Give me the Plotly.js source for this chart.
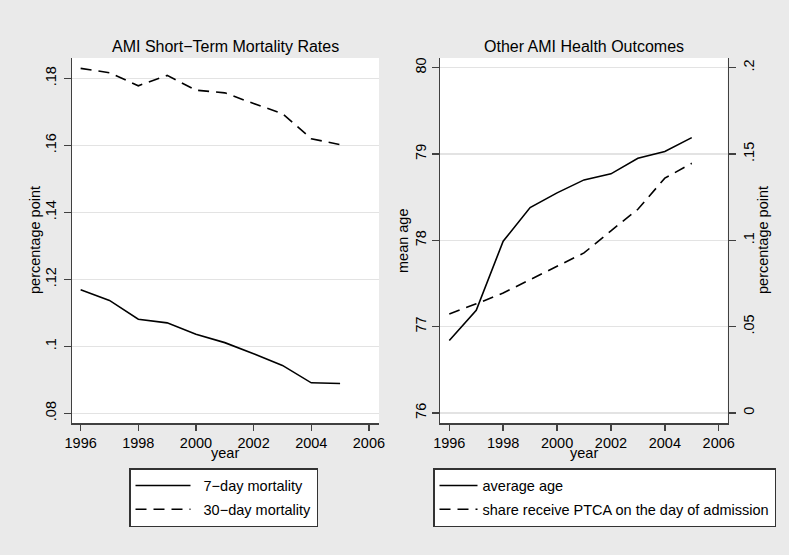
<!DOCTYPE html>
<html>
<head>
<meta charset="utf-8">
<script src="https://cdn.plot.ly/plotly-3.0.1.min.js"></script>
<style>
  html, body { margin: 0; padding: 0; background: #eaeaea; }
  #chart { width: 789px; height: 555px; }
</style>
</head>
<body>
<div id="chart"></div>
<script>
// values
const years = [1996, 1997, 1998, 1999, 2000, 2001, 2002, 2003, 2004, 2005];
const mort7 = [0.1169, 0.1137, 0.1081, 0.1070, 0.1036, 0.1011, 0.0978, 0.0943, 0.0891, 0.0889];
const mort30 = [0.1830, 0.1817, 0.1778, 0.1809, 0.1765, 0.1757, 0.1725, 0.1695, 0.1620, 0.1602];
const avgAge = [76.84, 77.19, 77.99, 78.38, 78.55, 78.70, 78.77, 78.95, 79.03, 79.19];
const ptca = [0.0574, 0.0632, 0.0695, 0.0772, 0.0849, 0.0927, 0.1055, 0.1180, 0.1360, 0.1446];

const xTicks = [1996, 1998, 2000, 2002, 2004, 2006];
const mortTicks = [0.08, 0.10, 0.12, 0.14, 0.16, 0.18];
const mortTickText = ['.08', '.1', '.12', '.14', '.16', '.18'];
const ageTicks = [76, 77, 78, 79, 80];
const shareTicks = [0, 0.05, 0.10, 0.15, 0.20];
const shareTickText = ['0', '.05', '.1', '.15', '.2'];

const FONT = 'Liberation Sans, Arial, sans-serif';
const AXIS = '#404040';
const DASH = '11px,7px';
const PAD = '\u00a0\u00a0';

let lineStyle = (dash) => ({color: 'black', width: 1.6, dash: dash});

var data = [
	{x: years, y: mort7, type: 'scatter', mode: 'lines', name: PAD + '7\u2212day mortality',
		xaxis: 'x', yaxis: 'y', line: lineStyle('solid'), legend: 'legend', legendgroup: 'a'},
	{x: years, y: mort30, type: 'scatter', mode: 'lines', name: PAD + '30\u2212day mortality',
		xaxis: 'x', yaxis: 'y', line: lineStyle(DASH), legend: 'legend', legendgroup: 'b'},
	{x: years, y: avgAge, type: 'scatter', mode: 'lines', name: 'average age',
		xaxis: 'x2', yaxis: 'y2', line: lineStyle('solid'), legend: 'legend2', legendgroup: 'c'},
	{x: years, y: ptca, type: 'scatter', mode: 'lines', name: 'share receive PTCA on the day of admission',
		xaxis: 'x2', yaxis: 'y3', line: lineStyle(DASH), legend: 'legend2', legendgroup: 'd'}
];

function baseAxis(extra) {
	return Object.assign({
		showline: true, linecolor: AXIS, linewidth: 1.5,
		ticks: 'outside', ticklen: 7, tickwidth: 1.5, tickcolor: AXIS,
		tickfont: {family: FONT, size: 14.5, color: 'black'},
		zeroline: false, showgrid: false, fixedrange: true
	}, extra);
}

let xAxisOpts = (domain, range, anchor) => baseAxis({
	domain: domain, range: range, anchor: anchor, ticklen: 6,
	tickmode: 'array', tickvals: xTicks, ticktext: xTicks.map(String)
});

let yAxisOpts = (extra) => baseAxis(Object.assign({
	domain: [1 - 423 / 555, 1 - 58 / 555], tickangle: -90,
	showgrid: true, gridcolor: '#e3e3e3', gridwidth: 1.5
}, extra));

let label = (text, x, y, angle, size) => ({
	text: text, x: x / 789, y: 1 - y / 555, xref: 'paper', yref: 'paper',
	showarrow: false, textangle: angle || 0, xanchor: 'center', yanchor: 'middle',
	font: {family: FONT, size: size || 14.5, color: 'black'}
});

let legendOpts = (x, width) => ({
	x: x / 789, y: 1 - 468 / 555, xanchor: 'left', yanchor: 'top',
	bgcolor: 'white', bordercolor: '#333333', borderwidth: 1.5,
	font: {family: FONT, size: 14.5, color: 'black'},
	itemwidth: width, tracegroupgap: 2
});

var layout = {
	width: 789, height: 555,
	margin: {l: 0, r: 0, t: 0, b: 0},
	paper_bgcolor: '#eaeaea', plot_bgcolor: 'white',
	showlegend: true,
	xaxis: xAxisOpts([72 / 789, 379 / 789], [1995.70, 2006.35], 'y'),
	yaxis: yAxisOpts({anchor: 'x', range: [0.0771, 0.1861], ticklabelstandoff: 2,
		tickmode: 'array', tickvals: mortTicks, ticktext: mortTickText}),
	xaxis2: xAxisOpts([440 / 789, 727.7 / 789], [1995.655, 2006.334], 'y2'),
	yaxis2: yAxisOpts({anchor: 'x2', range: [75.884, 80.112],
		tickmode: 'array', tickvals: ageTicks, ticktext: ageTicks.map(String)}),
	yaxis3: yAxisOpts({anchor: 'x2', overlaying: 'y2', side: 'right', showgrid: false,
		range: [-0.0058, 0.2056], tickmode: 'array', tickvals: shareTicks, ticktext: shareTickText}),
	legend: legendOpts(129, 55),
	legend2: legendOpts(433, 38),
	annotations: [
		label('AMI Short\u2212Term Mortality Rates', 225, 46, 0, 16),
		label('Other AMI Health Outcomes', 584, 46, 0, 16),
		label('year', 225, 453),
		label('year', 584, 453),
		label('percentage point', 35, 240, -90),
		label('mean age', 403, 240, -90),
		label('percentage point', 763, 240, -90)
	]
};

Plotly.newPlot('chart', data, layout, {staticPlot: true});
</script>
</body>
</html>
